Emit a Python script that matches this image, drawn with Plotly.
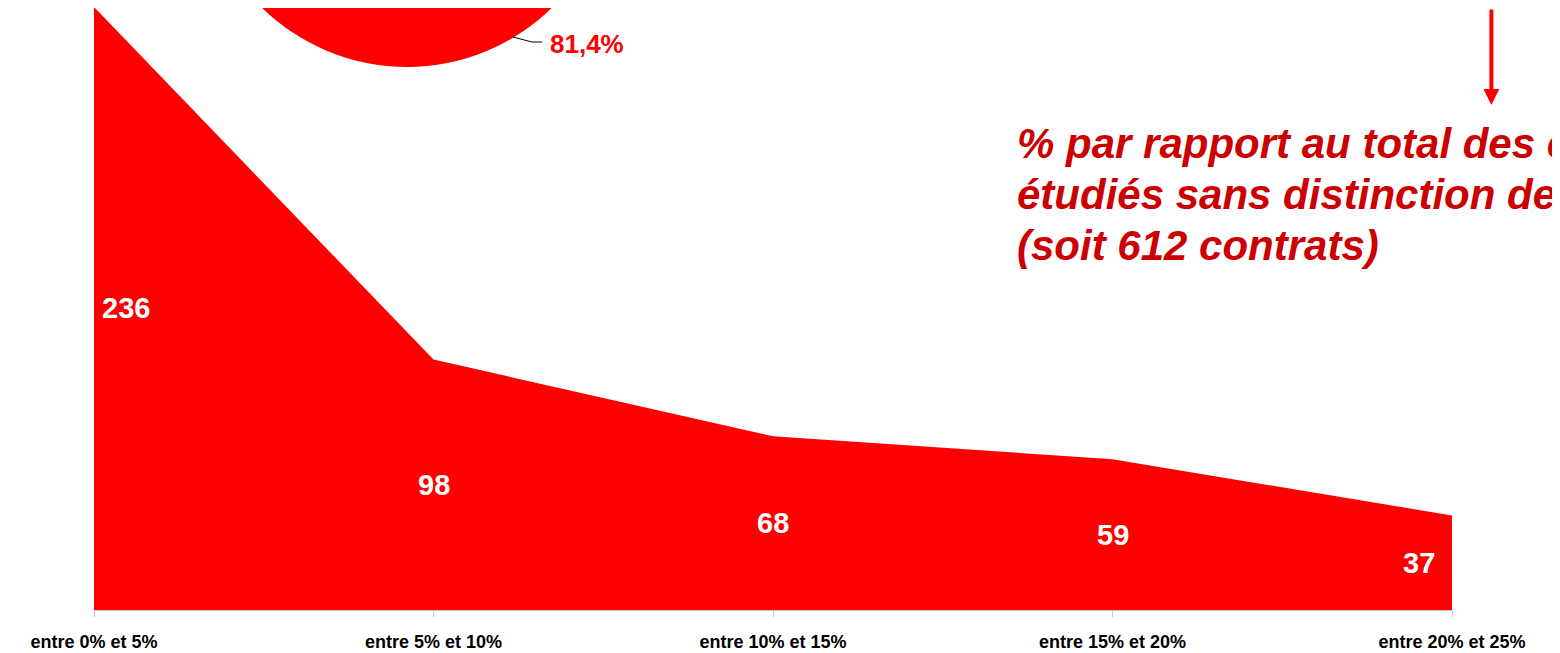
import plotly.graph_objects as go

# tranches of rate, number of contracts in each
CATEGORIES = ["entre 0% et 5%", "entre 5% et 10%", "entre 10% et 15%",
              "entre 15% et 20%", "entre 20% et 25%"]
COUNTS = [236, 98, 68, 59, 37]
TOTAL_CONTRACTS = 612
NOTE_LINES = ["% par rapport au total des contrats",
              "étudiés sans distinction de durée",
              f"(soit {TOTAL_CONTRACTS} contrats)"]

RED = "#ff0000"
DARK_RED = "#cc0000"
FONT = "Liberation Sans, Arial, sans-serif"

share = sum(COUNTS) / TOTAL_CONTRACTS * 100
share_label = f"{share:.1f}".replace(".", ",") + "%"

fig = go.Figure()
fig.add_trace(go.Scatter(x=CATEGORIES, y=COUNTS, mode="lines", fill="tozeroy",
                         fillcolor=RED, line=dict(width=0, color=RED),
                         hoverinfo="skip", showlegend=False))

# value labels, half way up the area
last = len(COUNTS) - 1
for i, (cat, v) in enumerate(zip(CATEGORIES, COUNTS)):
    anchor = "left" if i == 0 else ("right" if i == last else "center")
    shift = 6 if i == 0 else (-15 if i == last else 0)
    fig.add_annotation(x=cat, y=v / 2, text=str(v), showarrow=False,
                       xanchor=anchor, xshift=shift, yanchor="middle",
                       font=dict(family=FONT, size=29, color="white", weight="bold"))

# pie (cropped at the top of the slide)
fig.add_shape(type="circle", xref="paper", yref="paper", x0=0.078, x1=0.3829,
              y0=0.902, y1=1.5897, fillcolor=RED, line=dict(width=0), layer="above")
fig.add_shape(type="path", xref="paper", yref="paper",
              path="M0.3085,0.9518 L0.3225,0.9435 L0.3299,0.9435",
              line=dict(color="black", width=1))
fig.add_annotation(text=share_label, xref="paper", yref="paper", x=0.3343, y=0.9402,
                   xanchor="left", yanchor="middle", showarrow=False,
                   font=dict(family=FONT, size=26, color=RED, weight="bold"))

# arrow + note
fig.add_annotation(text="", xref="paper", yref="paper", x=1.029, y=0.8389,
                   ax=0, ay=-130, showarrow=True, arrowhead=2, arrowsize=0.8,
                   arrowwidth=4, arrowcolor=RED)
for line, y in zip(NOTE_LINES, [0.775, 0.6894, 0.6047]):
    fig.add_annotation(text=line, xref="paper", yref="paper", x=0.6782, y=y,
                       xanchor="left", yanchor="middle", align="left", showarrow=False,
                       font=dict(family=FONT, size=42, color=DARK_RED, weight="bold",
                                 style="italic"))

fig.update_layout(width=1560, height=653, plot_bgcolor="white", paper_bgcolor="white",
    margin=dict(l=86, r=116, t=0, b=51),
    xaxis=dict(range=[0, 4], showgrid=False, zeroline=False, showline=True,
               linecolor="#c8c8c8", linewidth=1, ticks="outside", ticklen=6,
               tickcolor="#c8c8c8", automargin=False, ticklabelstandoff=9,
               tickfont=dict(family=FONT, size=18, color="black", weight="bold")),
    yaxis=dict(range=[0, 235.6], showgrid=False, zeroline=False, showline=False,
               showticklabels=False, automargin=False))

fig.write_html("out.html")
